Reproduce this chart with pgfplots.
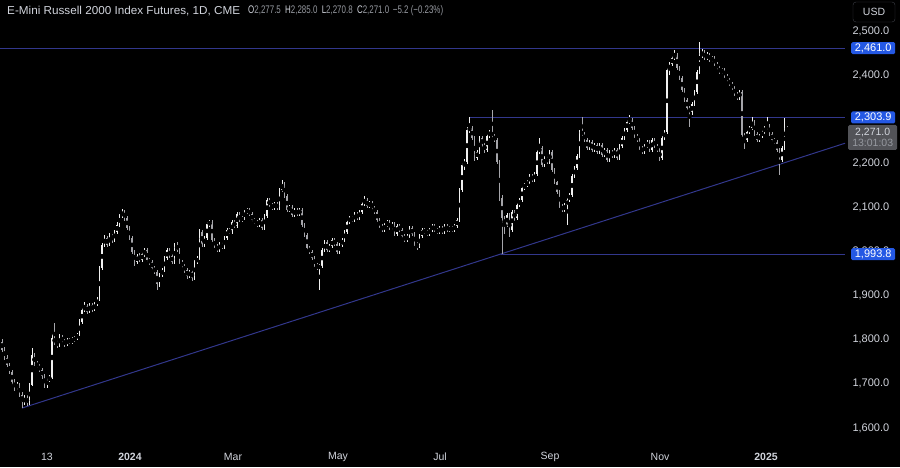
\documentclass[border=0pt]{standalone}
\usepackage{fontspec}
\setmainfont{Liberation Sans}
\usepackage{graphicx}
\usepackage{pgfplots}
\usepackage{pgfplotstable}
\pgfplotsset{compat=1.18}

\definecolor{tvtext}{RGB}{209,212,220}
\definecolor{tvval}{RGB}{150,153,160}
\definecolor{lineblue}{RGB}{50,55,140}
\definecolor{labelblue}{RGB}{36,88,228}
\definecolor{upc}{RGB}{240,240,240}
\definecolor{downc}{RGB}{165,165,170}
\definecolor{curbox}{RGB}{82,83,88}

% daily bars: index, open, high, low, close
\pgfplotstableread{
i o h l c
0 1795 1802 1772 1777
1 1777 1783 1754 1759
2 1759 1766 1738 1743
3 1743 1748 1722 1727
4 1727 1731 1698 1704
5 1704 1712 1684 1690
6 1690 1705 1686 1697
7 1697 1701 1670 1675
8 1675 1682 1645 1659
9 1659 1674 1652 1668
10 1668 1675 1650 1656
11 1656 1702 1652 1697
12 1697 1782 1694 1765
13 1765 1770 1740 1745
14 1745 1752 1735 1740
15 1740 1746 1726 1731
16 1731 1736 1712 1718
17 1718 1722 1690 1697
18 1697 1714 1690 1709
19 1709 1720 1704 1713
20 1713 1812 1710 1804
21 1804 1838 1788 1793
22 1793 1800 1781 1788
23 1788 1812 1784 1806
24 1806 1811 1792 1797
25 1797 1802 1784 1790
26 1790 1805 1786 1799
27 1799 1804 1790 1795
28 1795 1806 1791 1799
29 1799 1809 1794 1804
30 1804 1816 1800 1811
31 1811 1846 1808 1840
32 1840 1872 1835 1867
33 1867 1886 1862 1876
34 1876 1881 1858 1863
35 1863 1884 1860 1879
36 1879 1883 1862 1867
37 1867 1886 1864 1881
38 1881 1896 1877 1890
39 1890 1968 1887 1963
40 1963 2020 1958 2015
41 2015 2038 2010 2031
42 2031 2036 2010 2015
43 2015 2042 2012 2035
44 2035 2040 2020 2026
45 2026 2049 2022 2044
46 2044 2066 2040 2060
47 2060 2086 2056 2081
48 2081 2096 2076 2090
49 2090 2094 2070 2076
50 2076 2081 2049 2053
51 2053 2058 2026 2031
52 2031 2036 1994 1999
53 1999 2004 1968 1976
54 1976 1995 1972 1990
55 1990 1996 1976 1981
56 1981 1999 1977 1994
57 1994 2008 1988 2003
58 2003 2007 1976 1981
59 1981 1986 1970 1976
60 1976 1980 1958 1963
61 1963 1968 1948 1954
62 1954 1958 1912 1926
63 1926 1952 1920 1947
64 1947 1963 1942 1958
65 1958 1990 1954 1985
66 1985 2008 1980 2003
67 2003 2007 1985 1990
68 1990 1995 1971 1976
69 1976 2020 1972 2015
70 2015 2022 1998 2003
71 2003 2007 1971 1976
72 1976 1981 1962 1967
73 1967 1972 1952 1958
74 1958 1963 1938 1944
75 1944 1959 1940 1954
76 1954 1958 1934 1940
77 1940 1981 1936 1976
78 1976 1990 1971 1985
79 1985 2050 1981 2044
80 2044 2049 2010 2015
81 2015 2036 2010 2031
82 2031 2067 2027 2062
83 2062 2072 2056 2067
84 2067 2071 2021 2026
85 2026 2031 2007 2012
86 2012 2017 1998 2003
87 2003 2022 1999 2017
88 2017 2021 2005 2010
89 2010 2036 2006 2031
90 2031 2054 2027 2049
91 2049 2053 2039 2044
92 2044 2072 2040 2067
93 2067 2071 2053 2058
94 2058 2090 2054 2085
95 2085 2089 2066 2071
96 2071 2081 2067 2076
97 2076 2095 2072 2090
98 2090 2099 2085 2094
99 2094 2098 2080 2085
100 2085 2089 2066 2071
101 2071 2076 2062 2067
102 2067 2071 2055 2060
103 2060 2076 2056 2071
104 2071 2075 2048 2053
105 2053 2086 2049 2081
106 2081 2122 2077 2117
107 2117 2121 2100 2105
108 2105 2110 2094 2099
109 2099 2113 2095 2108
110 2108 2112 2094 2099
111 2099 2144 2095 2139
112 2139 2162 2135 2153
113 2153 2157 2121 2126
114 2126 2130 2089 2094
115 2094 2106 2090 2101
116 2101 2105 2078 2083
117 2083 2099 2079 2094
118 2094 2098 2080 2085
119 2085 2099 2081 2094
120 2094 2098 2055 2060
121 2060 2065 2032 2037
122 2037 2041 2003 2008
123 2008 2013 1994 1999
124 1999 2004 1980 1985
125 1985 1990 1964 1969
126 1969 1974 1958 1963
127 1963 1972 1913 1967
128 1967 2008 1963 2003
129 2003 2026 1998 2021
130 2021 2025 1998 2003
131 2003 2017 1999 2012
132 2012 2031 2008 2026
133 2026 2030 2012 2017
134 2017 2021 1994 1999
135 1999 2020 1995 2015
136 2015 2031 2011 2026
137 2026 2049 2022 2044
138 2044 2072 2040 2067
139 2067 2081 2063 2076
140 2076 2080 2066 2071
141 2071 2090 2067 2085
142 2085 2089 2071 2076
143 2076 2095 2072 2090
144 2090 2113 2086 2108
145 2108 2125 2104 2117
146 2117 2121 2098 2103
147 2103 2115 2099 2110
148 2110 2114 2094 2099
149 2099 2103 2085 2090
150 2090 2094 2066 2071
151 2071 2075 2053 2058
152 2058 2062 2044 2049
153 2049 2065 2045 2060
154 2060 2072 2056 2067
155 2067 2071 2048 2053
156 2053 2067 2049 2062
157 2062 2066 2035 2040
158 2040 2063 2036 2058
159 2058 2062 2044 2049
160 2049 2053 2030 2035
161 2035 2039 2021 2026
162 2026 2040 2022 2035
163 2035 2058 2031 2053
164 2053 2057 2035 2040
165 2040 2044 2012 2017
166 2017 2021 2004 2012
167 2012 2040 2008 2035
168 2035 2054 2031 2049
169 2049 2053 2039 2044
170 2044 2048 2035 2040
171 2040 2054 2036 2049
172 2049 2063 2045 2058
173 2058 2062 2044 2049
174 2049 2053 2039 2044
175 2044 2058 2040 2053
176 2053 2057 2039 2044
177 2044 2063 2040 2058
178 2058 2062 2044 2049
179 2049 2058 2045 2053
180 2053 2057 2044 2049
181 2049 2063 2045 2058
182 2058 2076 2054 2071
183 2071 2144 2067 2139
184 2139 2201 2135 2196
185 2196 2210 2185 2203
186 2203 2282 2199 2276
187 2276 2304 2268 2280
188 2280 2285 2252 2257
189 2257 2261 2205 2212
190 2212 2231 2208 2226
191 2226 2262 2222 2257
192 2257 2261 2237 2242
193 2242 2247 2224 2230
194 2230 2267 2226 2262
195 2262 2276 2258 2271
196 2271 2321 2258 2262
197 2262 2266 2248 2253
198 2253 2257 2198 2203
199 2203 2207 2115 2121
200 2121 2128 1994 2076
201 2076 2081 2040 2060
202 2060 2088 2055 2083
203 2083 2087 2032 2049
204 2049 2095 2045 2090
205 2090 2094 2070 2076
206 2076 2110 2072 2105
207 2105 2122 2100 2117
208 2117 2149 2113 2144
209 2144 2156 2140 2151
210 2151 2162 2146 2157
211 2157 2176 2153 2171
212 2171 2175 2157 2162
213 2162 2181 2158 2176
214 2176 2231 2172 2226
215 2226 2258 2221 2235
216 2235 2239 2191 2196
217 2196 2217 2192 2212
218 2212 2216 2198 2203
219 2203 2231 2199 2226
220 2226 2230 2180 2185
221 2185 2189 2152 2157
222 2157 2161 2130 2135
223 2135 2139 2098 2103
224 2103 2108 2089 2094
225 2094 2110 2090 2105
226 2105 2122 2060 2117
227 2117 2133 2113 2128
228 2128 2176 2124 2171
229 2171 2194 2167 2189
230 2189 2222 2185 2217
231 2217 2276 2213 2271
232 2271 2305 2262 2267
233 2267 2271 2248 2253
234 2253 2257 2230 2235
235 2235 2253 2231 2248
236 2248 2252 2225 2230
237 2230 2247 2226 2242
238 2242 2246 2221 2226
239 2226 2247 2222 2242
240 2242 2246 2214 2219
241 2219 2235 2215 2230
242 2230 2234 2202 2207
243 2207 2231 2203 2226
244 2226 2230 2212 2217
245 2217 2235 2213 2230
246 2230 2234 2207 2212
247 2212 2244 2208 2239
248 2239 2262 2235 2257
249 2257 2281 2253 2276
250 2276 2299 2272 2294
251 2294 2310 2289 2298
252 2298 2302 2275 2280
253 2280 2284 2257 2262
254 2262 2266 2248 2253
255 2253 2257 2230 2235
256 2235 2239 2221 2226
257 2226 2244 2222 2239
258 2239 2253 2235 2248
259 2248 2252 2225 2230
260 2230 2258 2226 2253
261 2253 2257 2234 2239
262 2239 2243 2225 2230
263 2230 2234 2205 2212
264 2212 2262 2208 2257
265 2257 2276 2253 2271
266 2271 2417 2267 2412
267 2412 2430 2400 2425
268 2425 2444 2420 2439
269 2439 2457 2434 2446
270 2446 2450 2411 2416
271 2416 2420 2388 2393
272 2393 2397 2361 2366
273 2366 2370 2339 2344
274 2344 2348 2320 2325
275 2325 2330 2282 2316
276 2316 2339 2310 2334
277 2334 2367 2330 2362
278 2362 2412 2358 2407
279 2407 2475 2402 2443
280 2443 2460 2438 2452
281 2452 2456 2434 2439
282 2439 2452 2435 2446
283 2446 2450 2429 2434
284 2434 2444 2430 2439
285 2439 2443 2420 2425
286 2425 2429 2411 2416
287 2416 2420 2402 2407
288 2407 2417 2403 2412
289 2412 2416 2393 2398
290 2398 2402 2384 2389
291 2389 2393 2375 2380
292 2380 2384 2366 2371
293 2371 2375 2352 2357
294 2357 2361 2343 2348
295 2348 2367 2344 2362
296 2362 2366 2259 2264
297 2264 2268 2233 2253
298 2253 2276 2249 2271
299 2271 2285 2267 2280
300 2280 2304 2276 2294
301 2294 2298 2262 2267
302 2267 2271 2248 2253
303 2253 2267 2249 2262
304 2262 2276 2258 2271
305 2271 2285 2267 2280
306 2280 2305 2276 2285
307 2285 2289 2262 2267
308 2267 2271 2248 2253
309 2253 2257 2243 2248
310 2248 2252 2225 2230
311 2230 2234 2173 2207
312 2207 2240 2203 2235
313 2235 2303 2231 2276
314 2277.5 2285 2270.8 2271.0
}\candles

\begin{document}
\begin{tikzpicture}
\fill[black] (0,0) rectangle (900pt,467pt);

\begin{axis}[
  at={(0pt,27pt)}, anchor=south west,
  scale only axis, width=845pt, height=440pt,
  xmin=-0.8, xmax=337.2, ymin=1572.6, ymax=2570.3,
  axis line style={draw=none}, tick style={draw=none},
  xtick={18,51.2,92.4,134.4,175.2,219.2,263.2,305.6},
  xticklabels={13,\textbf{2024},Mar,May,Jul,Sep,Nov,\textbf{2025}},
  xticklabel style={anchor=center, yshift=-17pt, text=tvtext, font=\fontsize{10.5}{12}\selectfont},
  ytick={1600,1700,1800,1900,2000,2100,2200,2400,2500},
  yticklabel pos=right,
  yticklabel style={anchor=west, xshift=4pt, text=tvtext, font=\fontsize{11}{12}\selectfont,
    /pgf/number format/.cd, fixed, fixed zerofill, precision=1, 1000 sep={,}, assume math mode=true},
  clip=true,
]
% horizontal levels and trendline
\addplot[lineblue, line width=1pt, forget plot] coordinates {(-0.8,2461) (337.2,2461)};
\addplot[lineblue, line width=1pt, forget plot] coordinates {(187,2303.9) (337.2,2303.9)};
\addplot[lineblue, line width=1pt, forget plot] coordinates {(199.6,1993.8) (337.2,1993.8)};
\addplot[lineblue, line width=1pt, forget plot] coordinates {(8,1645) (337.2,2245.5)};

% wicks
\addplot[forget plot, only marks, mark=none,
  restrict expr to domain={\thisrow{c}-\thisrow{o}}{0:100000},
  error bars/.cd, y dir=both, y explicit, error mark=none,
  error bar style={line width=0.6pt, draw=upc}]
  table[x=i, y expr={(\thisrow{h}+\thisrow{l})/2}, y error expr={(\thisrow{h}-\thisrow{l})/2}] {\candles};
\addplot[forget plot, only marks, mark=none,
  restrict expr to domain={\thisrow{c}-\thisrow{o}}{-100000:-0.01},
  error bars/.cd, y dir=both, y explicit, error mark=none,
  error bar style={line width=0.6pt, draw=downc}]
  table[x=i, y expr={(\thisrow{h}+\thisrow{l})/2}, y error expr={(\thisrow{h}-\thisrow{l})/2}] {\candles};
% bodies
\addplot[forget plot, only marks, mark=none,
  restrict expr to domain={\thisrow{c}-\thisrow{o}}{0:100000},
  error bars/.cd, y dir=both, y explicit, error mark=none,
  error bar style={line width=1.9pt, draw=upc}]
  table[x=i, y expr={(\thisrow{o}+\thisrow{c})/2}, y error expr={max(abs(\thisrow{c}-\thisrow{o})/2,1.2)}] {\candles};
\addplot[forget plot, only marks, mark=none,
  restrict expr to domain={\thisrow{c}-\thisrow{o}}{-100000:-0.01},
  error bars/.cd, y dir=both, y explicit, error mark=none,
  error bar style={line width=1.9pt, draw=downc}]
  table[x=i, y expr={(\thisrow{o}+\thisrow{c})/2}, y error expr={max(abs(\thisrow{c}-\thisrow{o})/2,1.2)}] {\candles};

\coordinate (pA) at (axis cs:337.2,2461);
\coordinate (pB) at (axis cs:337.2,2303.9);
\coordinate (pC) at (axis cs:337.2,1993.8);
\coordinate (pD) at (axis cs:337.2,2271);
\end{axis}

% price labels on the scale
\tikzset{pricebox/.style={anchor=west, xshift=6pt, fill=labelblue, text=white, rounded corners=1.5pt,
  inner sep=1pt, minimum width=44pt, minimum height=12pt, font=\fontsize{11}{12}\selectfont}}
\node[pricebox] at (pA) {2,461.0};
\node[pricebox] at (pB) {2,303.9};
\node[pricebox] at (pC) {1,993.8};
\node[anchor=west, xshift=3pt, yshift=-5.5pt, fill=curbox, rounded corners=1.5pt, inner sep=1pt,
  minimum width=49pt, minimum height=25pt, align=center, font=\fontsize{10.5}{11.5}\selectfont]
  at (pD) {\textcolor{tvtext}{2,271.0}\\\textcolor{tvval}{13:01:03}};

% currency box
\node[draw={rgb,255:red,60;green,62;blue,70}, rounded corners=3pt, minimum width=42pt, minimum height=20pt,
  text=tvtext, font=\fontsize{10.5}{12}\selectfont] at (874pt,455pt) {USD};

% header
\node[anchor=west, inner sep=0pt, text=tvtext, font=\fontsize{11.5}{12}\selectfont] at (7pt,456pt)
  {\resizebox{233pt}{\height}{E-Mini Russell 2000 Index Futures, 1D, CME}};
\node[anchor=west, inner sep=0pt, text=tvtext, font=\fontsize{11}{12}\selectfont] at (248pt,456pt)
  {\resizebox{195pt}{\height}{O\textcolor{tvval}{2,277.5}\hspace{6pt}H\textcolor{tvval}{2,285.0}\hspace{6pt}L\textcolor{tvval}{2,270.8}\hspace{6pt}C\textcolor{tvval}{2,271.0}\hspace{5pt}\textcolor{tvval}{−5.2 (−0.23\%)}}};

\pgfresetboundingbox
\path[use as bounding box] (0,0) rectangle (900pt,467pt);
\end{tikzpicture}
\end{document}
